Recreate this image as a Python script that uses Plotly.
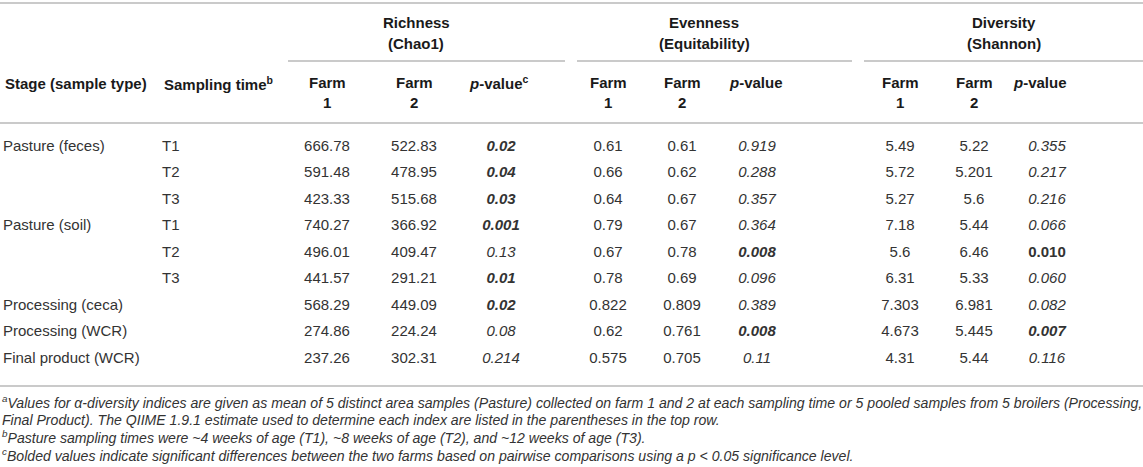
import plotly.graph_objects as go

# table content
stages = ["Pasture (feces)", "", "", "Pasture (soil)", "", "",
          "Processing (ceca)", "Processing (WCR)", "Final product (WCR)"]
times = ["T1", "T2", "T3", "T1", "T2", "T3", "", "", ""]

rich_f1 = ["666.78", "591.48", "423.33", "740.27", "496.01", "441.57", "568.29", "274.86", "237.26"]
rich_f2 = ["522.83", "478.95", "515.68", "366.92", "409.47", "291.21", "449.09", "224.24", "302.31"]
rich_p = ["0.02", "0.04", "0.03", "0.001", "0.13", "0.01", "0.02", "0.08", "0.214"]
rich_bold = [True, True, True, True, False, True, True, False, False]

even_f1 = ["0.61", "0.66", "0.64", "0.79", "0.67", "0.78", "0.822", "0.62", "0.575"]
even_f2 = ["0.61", "0.62", "0.67", "0.67", "0.78", "0.69", "0.809", "0.761", "0.705"]
even_p = ["0.919", "0.288", "0.357", "0.364", "0.008", "0.096", "0.389", "0.008", "0.11"]
even_bold = [False, False, False, False, True, False, False, True, False]

div_f1 = ["5.49", "5.72", "5.27", "7.18", "5.6", "6.31", "7.303", "4.673", "4.31"]
div_f2 = ["5.22", "5.201", "5.6", "5.44", "6.46", "5.33", "6.981", "5.445", "5.44"]
div_p = ["0.355", "0.217", "0.216", "0.066", "0.010", "0.060", "0.082", "0.007", "0.116"]
div_bold = [False, False, False, False, True, False, False, True, False]
div_italic = [True, True, True, True, False, True, True, True, True]

groups = ["Richness", "Evenness", "Diversity"]
group_sub = ["(Chao1)", "(Equitability)", "(Shannon)"]

footnotes = [
    "<sup>a</sup>Values for α-diversity indices are given as mean of 5 distinct area samples (Pasture) collected on farm 1 and 2 "
    "at each sampling time or 5 pooled samples from 5 broilers (Processing,",
    "Final Product). The QIIME 1.9.1 estimate used to determine each index are listed in the parentheses in the top row.",
    "<sup>b</sup>Pasture sampling times were ~4 weeks of age (T1), ~8 weeks of age (T2), and ~12 weeks of age (T3).",
    "<sup>c</sup>Bolded values indicate significant differences between the two farms based on pairwise comparisons "
    "using a p < 0.05 significance level.",
]

# layout (pixels)
W, H = 1143, 467
FONT = "Liberation Sans, Arial, sans-serif"
BODY = "#333333"
HEAD = "#1a1a1a"
RULE = "#b8b8b8"
ROW0, ROWH = 147, 26.5
rows_y = [ROW0 + ROWH * i for i in range(len(stages))]
FOOT0, FOOTH = 402, 17.7

X_STAGE, X_TIME = 3, 162
group_cols = [(327, 414, 501, 467), (608, 682, 757, 727), (900, 974, 1047, 1011)]
group_cx = [416, 704, 1004]
group_lines = [(288, 565), (577, 852), (864, 1143)]


def style(vals, bold, italic=None):
    out = []
    for i, v in enumerate(vals):
        s = v
        if italic is None or italic[i]:
            s = "<i>" + s + "</i>"
        if bold[i]:
            s = "<b>" + s + "</b>"
        out.append(s)
    return out


fig = go.Figure()


def col(x, texts, pos="middle center"):
    ys = [y for y, t in zip(rows_y, texts) if t]
    texts = [t for t in texts if t]
    fig.add_trace(go.Scatter(
        x=[x] * len(texts), y=ys, text=texts, mode="text",
        textposition=pos, hoverinfo="skip", showlegend=False, cliponaxis=False,
        textfont=dict(family=FONT, size=15, color=BODY)))


col(X_STAGE, stages, "middle right")
col(X_TIME, times, "middle right")

data = [
    (rich_f1, rich_f2, style(rich_p, rich_bold)),
    (even_f1, even_f2, style(even_p, even_bold)),
    (div_f1, div_f2, style(div_p, div_bold, div_italic)),
]
for (f1, f2, pv), (x1, x2, xp, _) in zip(data, group_cols):
    col(x1, f1)
    col(x2, f2)
    col(xp, pv)

ann = []


def head(x, y, text, anchor="center"):
    ann.append(dict(x=x, y=y, xref="x", yref="y", text="<b>" + text + "</b>",
                    showarrow=False, xanchor=anchor, yanchor="middle",
                    font=dict(family=FONT, size=15, color=HEAD)))


head(X_STAGE, 83, "Stage (sample type)", "left")
head(X_TIME, 83, "Sampling time<sup>b</sup>", "left")
for k, (g, sub) in enumerate(zip(groups, group_sub)):
    head(group_cx[k], 22, g)
    head(group_cx[k], 43, sub)
    x1, x2, _, xpl = group_cols[k]
    head(x1, 82, "Farm")
    head(x1, 102, "1")
    head(x2, 82, "Farm")
    head(x2, 102, "2")
    head(xpl, 82, "<i>p</i>-value" + ("<sup>c</sup>" if k == 0 else ""), "left")

for j, t in enumerate(footnotes):
    ann.append(dict(x=0, y=FOOT0 + FOOTH * j, xref="x", yref="y", text="<i>" + t + "</i>",
                    showarrow=False, xanchor="left", yanchor="middle",
                    font=dict(family=FONT, size=14.1, color=BODY)))

shapes = []
for y in (3, 123, 386):
    shapes.append(dict(type="line", x0=0, x1=W, y0=y, y1=y, xref="x", yref="y",
                       line=dict(color=RULE, width=1.5)))
for a, b in group_lines:
    shapes.append(dict(type="line", x0=a, x1=b, y0=61, y1=61, xref="x", yref="y",
                       line=dict(color=RULE, width=1.5)))

fig.update_layout(
    width=W, height=H, margin=dict(l=0, r=0, t=0, b=0),
    paper_bgcolor="white", plot_bgcolor="white",
    xaxis=dict(range=[0, W], visible=False, fixedrange=True),
    yaxis=dict(range=[H, 0], visible=False, fixedrange=True),
    annotations=ann, shapes=shapes,
)

fig.write_html("out.html", config={"displayModeBar": False},
               post_script="document.body.style.margin='0px';")
